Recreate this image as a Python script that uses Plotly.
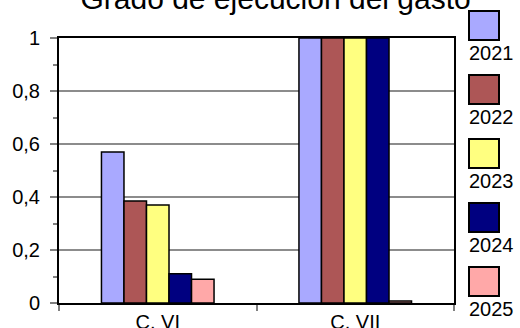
import plotly.graph_objects as go

categories = ["C. VI", "C. VII"]
years = ["2021", "2022", "2023", "2024", "2025"]
values = {
    "2021": [0.57, 1.0],
    "2022": [0.385, 1.0],
    "2023": [0.37, 1.0],
    "2024": [0.11, 1.0],
    "2025": [0.09, 0.008],
}
colors = ["#A9A9FF", "#AD5656", "#FFFF80", "#000080", "#FFA8A8"]
title_text = "Grado de ejecución del gasto"

fig = go.Figure()
for year, color in zip(years, colors):
    fig.add_trace(go.Bar(
        x=categories, y=values[year], name=year,
        marker=dict(color=color, line=dict(color="black", width=1.5)),
        showlegend=False,
    ))

# Legend drawn as a column of swatches with the year under each one
for i, (year, color) in enumerate(zip(years, colors)):
    top = 11 + i * 64
    fig.add_shape(type="rect", xref="paper", yref="paper",
                  x0=(469 - 59) / 395, x1=(499 - 59) / 395,
                  y0=(303 - top) / 265, y1=(303 - top - 29) / 265,
                  fillcolor=color, line=dict(color="black", width=2), layer="above")
    fig.add_annotation(text=year, xref="paper", yref="paper",
                       x=(467 - 59) / 395, y=(303 - top - 29) / 265,
                       xanchor="left", yanchor="top", showarrow=False,
                       font=dict(size=20, color="black"))

fig.update_layout(
    width=520, height=328,
    margin=dict(l=59, r=66, t=38, b=25, autoexpand=False),
    paper_bgcolor="white", plot_bgcolor="white",
    barmode="group", bargap=0.43, bargroupgap=0,
    separators=",.",
    font=dict(family="Liberation Sans, Arial, sans-serif", color="black", size=20),
    title=dict(text=title_text, x=0.53, xanchor="center",
               y=1 - 9 / 328, yref="container", yanchor="bottom",
               font=dict(size=30, color="black"), pad=dict(b=0, t=0),
               automargin=False),
)
fig.update_xaxes(
    showline=True, linecolor="black", linewidth=2, mirror=True,
    ticks="outside", tickson="boundaries", ticklen=6, tickcolor="#808080",
    tickwidth=1.5, showgrid=False, tickfont=dict(size=20),
    ticklabelstandoff=0, automargin=False,
)
fig.update_yaxes(
    range=[0, 1], dtick=0.2, showline=True, linecolor="black", linewidth=2,
    mirror=True, ticks="outside", ticklen=7, tickcolor="#808080", tickwidth=1.5,
    gridcolor="#8C8C8C", gridwidth=1.5, zeroline=False,
    minor=dict(dtick=0.1, ticks="outside", ticklen=4, tickcolor="#808080",
               tickwidth=1.5, showgrid=False),
    tickfont=dict(size=20), ticklabelstandoff=6, automargin=False,
)

fig.write_html("out.html")
